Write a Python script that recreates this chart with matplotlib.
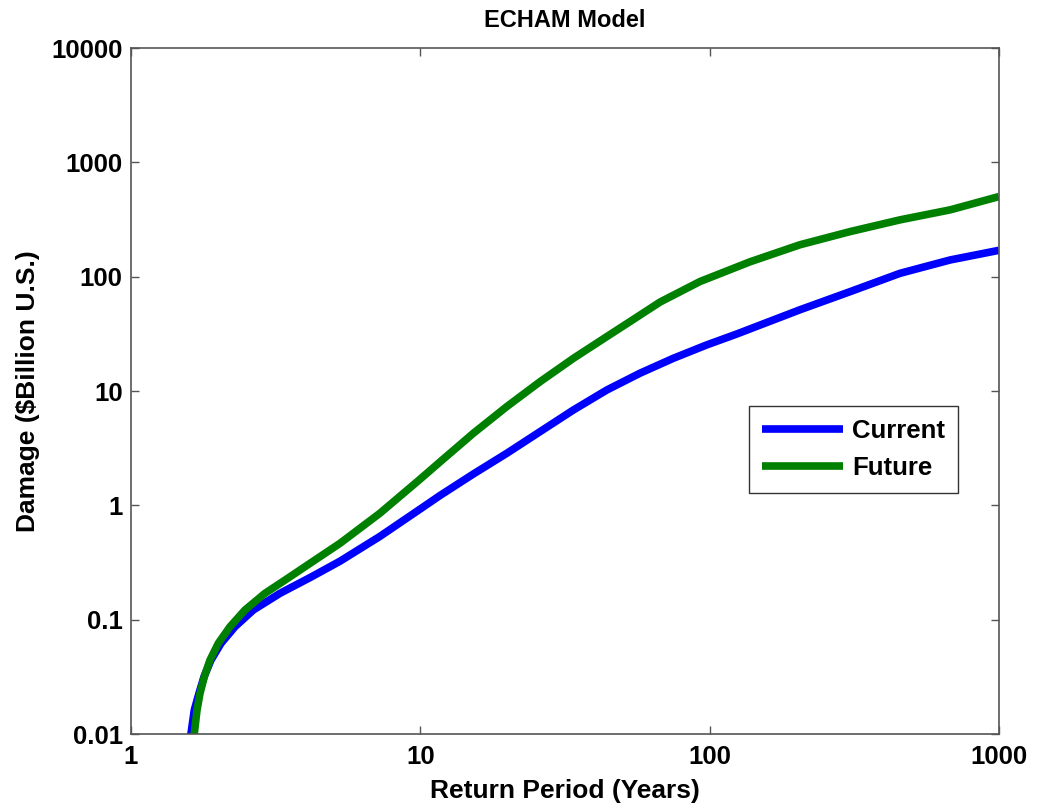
import matplotlib
matplotlib.use("Agg")
import matplotlib.pyplot as plt
from matplotlib.ticker import FixedLocator, FixedFormatter, NullLocator

plt.rcParams['font.family'] = ['Liberation Sans', 'DejaVu Sans']

# Data
period_current = [1.58, 1.612, 1.655, 1.718, 1.788, 1.89, 2.047, 2.288, 2.647, 3.273,
                  4.213, 5.28, 7.25, 10, 11.7, 15.25, 19.89, 25.93, 33.8,
                  44.1, 57.4, 74.8, 97.7, 124, 205, 306, 455, 678, 1000]
damage_current = [0.008, 0.0101, 0.0162, 0.0227, 0.0317, 0.0443, 0.0621, 0.0868, 0.1215,
                  0.170, 0.2376, 0.325, 0.535, 0.93, 1.22, 1.88, 2.85, 4.41,
                  6.82, 10.2, 14.3, 19.3, 25.3, 31.5, 51.3, 74, 107, 140, 170]

period_future = [1.625, 1.655, 1.691, 1.732, 1.792, 1.875, 2.003, 2.199, 2.477, 2.905,
                 3.498, 4.157, 5.28, 7.25, 10, 11.7, 15.25, 19.89, 25.93, 33.8, 44.1,
                 53.0, 67.4, 92.6, 138, 205, 306, 455, 678, 1000]
damage_future = [0.008, 0.0101, 0.0162, 0.0227, 0.0317, 0.0443, 0.0621, 0.0868, 0.1215,
                 0.170, 0.232, 0.311, 0.466, 0.853, 1.70, 2.40, 4.27, 7.3, 12.06, 19.3,
                 29.9, 40.4, 60, 90.7, 135, 190, 248, 314, 384, 502]

x_ticks = [1, 10, 100, 1000]
x_tick_labels = ['1', '10', '100', '1000']
y_ticks = [0.01, 0.1, 1, 10, 100, 1000, 10000]
y_tick_labels = ['0.01', '0.1', '1', '10', '100', '1000', '10000']

fig = plt.figure(figsize=(10.38, 8.10), dpi=100)
ax = fig.add_axes([131/1038, 1 - 734/810, (999-131)/1038, (734-48)/810])

ax.plot(period_current, damage_current, color='#0000ff', lw=5.5, label='Current',
        solid_capstyle='butt', solid_joinstyle='round')
ax.plot(period_future, damage_future, color='#008000', lw=5.5, label='Future',
        solid_capstyle='butt', solid_joinstyle='round')

ax.set_xscale('log')
ax.set_yscale('log')
ax.set_xlim(1, 1000)
ax.set_ylim(0.01, 10000)

ax.xaxis.set_major_locator(FixedLocator(x_ticks))
ax.xaxis.set_major_formatter(FixedFormatter(x_tick_labels))
ax.yaxis.set_major_locator(FixedLocator(y_ticks))
ax.yaxis.set_major_formatter(FixedFormatter(y_tick_labels))
ax.xaxis.set_minor_locator(NullLocator())
ax.yaxis.set_minor_locator(NullLocator())

spine_col = '#555555'
for s in ax.spines.values():
    s.set_color(spine_col)
    s.set_linewidth(1.2)

ax.tick_params(axis='both', which='major', direction='in', length=6, width=1,
               color=spine_col, top=True, right=True, labelsize=18.5)
ax.tick_params(axis='x', pad=8)
ax.tick_params(axis='y', pad=6)
for lab in ax.get_xticklabels() + ax.get_yticklabels():
    lab.set_fontweight('bold')

ax.set_title('ECHAM Model', fontsize=17, fontweight='bold', pad=15)
ax.set_xlabel('Return Period (Years)', fontsize=19, fontweight='bold', labelpad=7)
ax.set_ylabel('Damage ($Billion U.S.)', fontsize=19, fontweight='bold', labelpad=8)

leg = ax.legend(loc='upper left', bbox_to_anchor=((749-131)/868, (734-406)/686),
                borderaxespad=0, fancybox=False, framealpha=1, handlelength=3.15,
                prop={'size': 18.5, 'weight': 'bold'}, borderpad=0.5, labelspacing=0.5,
                handletextpad=0.35)
leg.get_frame().set_edgecolor('#333333')
leg.get_frame().set_linewidth(1.0)

fig.savefig('out.png', dpi=100)
